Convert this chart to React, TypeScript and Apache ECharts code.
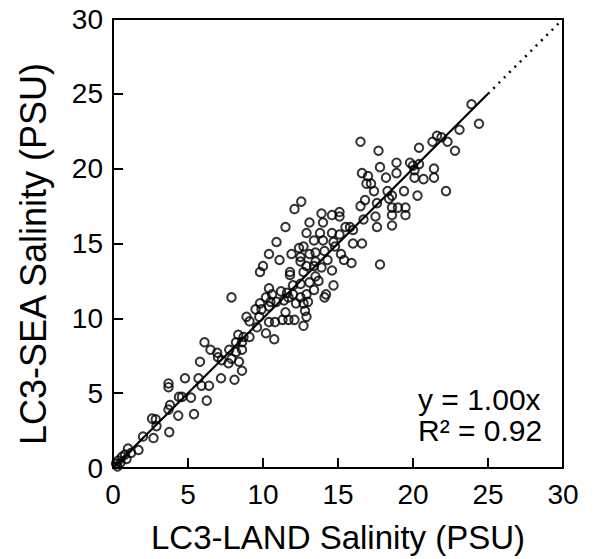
import React, { useEffect, useRef } from "react";
import * as echarts from "echarts";

// LC3-LAND salinity (x) and LC3-SEA salinity (y), PSU
const landSalinity = [
  0.2, 0.35, 0.6, 0.8, 1.0, 1.7, 0.3, 0.5, 0.9, 1.2,
  2.0, 2.7, 2.9, 2.6, 2.85, 3.75, 3.8, 3.7, 4.35, 5.4,
  4.4, 4.6, 5.2, 6.25, 3.7, 3.7, 4.8, 5.7, 5.9, 6.4,
  5.8, 7.2, 8.1, 8.6, 6.5, 6.95, 7.0, 7.75, 7.9, 8.2,
  8.6, 8.4, 7.7, 7.25, 6.1, 8.2, 8.6, 8.7, 9.1, 8.35,
  10.2, 10.75, 9.6, 10.4, 10.8, 11.3, 11.7, 12.1, 12.7, 8.9,
  9.1, 9.75, 9.5, 9.9, 10.4, 11.5, 12.8, 12.9, 9.8, 10.5,
  10.9, 11.4, 11.7, 12.2, 12.7, 10.2, 10.6, 11.6, 12.0, 12.5,
  12.9, 13.0, 7.9, 10.4, 11.2, 12.0, 12.5, 13.1, 13.7, 13.4,
  14.2, 14.1, 14.7, 10.0, 9.8, 11.8, 11.8, 12.7, 12.9, 13.4,
  13.9, 14.6, 13.5, 10.4, 11.1, 11.9, 12.5, 13.1, 13.5, 14.1,
  14.8, 15.2, 12.5, 13.5, 10.9, 12.4, 12.7, 11.5, 12.55, 12.1,
  13.4, 14.0, 14.7, 16.0, 16.6, 15.1, 16.0, 12.9, 13.8, 14.6,
  15.5, 15.8, 13.1, 14.0, 15.1, 13.9, 14.6, 15.1, 15.4, 15.9,
  17.8, 16.7, 17.5, 17.6, 18.6, 18.6, 19.5, 18.6, 19.0, 19.5,
  16.5, 17.6, 18.4, 16.8, 17.4, 18.3, 19.4, 16.9, 17.2, 18.2,
  16.6, 17.0, 17.8, 16.5, 17.7, 18.9, 19.8, 20.4, 20.0, 18.9,
  20.1, 21.4, 20.1, 20.7, 21.4, 22.2, 20.3, 18.6, 20.4, 21.6,
  21.9, 21.3, 22.3, 22.8, 23.1, 23.9, 24.4, 14.3,
];
const seaSalinity = [
  0.3, 0.5, 0.75, 0.9, 1.3, 1.2, 0.1, 0.35, 0.6, 1.0,
  2.1, 2.0, 2.8, 3.3, 3.25, 2.4, 4.2, 3.9, 3.5, 3.6,
  4.75, 4.75, 4.7, 4.5, 5.65, 5.4, 6.0, 6.0, 5.5, 5.5,
  7.1, 6.0, 5.9, 6.5, 7.9, 7.7, 7.4, 7.9, 7.3, 7.75,
  7.9, 7.1, 7.0, 7.2, 8.4, 8.4, 8.4, 8.75, 8.75, 8.9,
  9.0, 8.6, 9.4, 9.75, 9.75, 9.9, 9.9, 9.9, 9.5, 10.1,
  9.8, 10.1, 10.6, 10.6, 10.8, 10.4, 10.5, 10.1, 11.0, 11.1,
  11.1, 11.2, 11.4, 11.0, 11.0, 11.4, 11.6, 11.7, 11.6, 11.4,
  11.6, 11.1, 11.4, 12.0, 11.8, 12.2, 12.3, 12.4, 12.5, 11.9,
  11.6, 11.4, 12.2, 13.5, 13.1, 13.1, 12.9, 13.1, 13.5, 13.5,
  13.4, 13.2, 12.8, 14.3, 13.9, 14.3, 14.1, 14.3, 14.4, 14.5,
  14.8, 14.3, 13.8, 13.8, 15.1, 14.7, 14.8, 16.1, 17.8, 17.3,
  15.2, 15.2, 15.1, 15.0, 15.0, 15.6, 15.9, 15.7, 15.7, 15.7,
  16.1, 16.1, 16.4, 16.4, 16.8, 17.0, 16.9, 17.1, 13.9, 13.7,
  13.6, 16.6, 16.8, 16.1, 16.2, 16.9, 16.9, 17.4, 17.4, 17.4,
  17.5, 17.7, 18.0, 17.9, 18.5, 18.5, 18.5, 19.0, 19.0, 19.4,
  19.7, 19.5, 20.1, 21.8, 21.2, 20.4, 20.4, 20.3, 20.2, 19.7,
  19.9, 20.0, 19.4, 19.3, 19.4, 18.5, 18.2, 18.2, 21.4, 22.2,
  22.1, 21.8, 21.8, 21.2, 22.6, 24.3, 23.0, 13.9,
];

const axisTicks = [0, 5, 10, 15, 20, 25, 30];
const fitSlope = 1.0;
const fitEndX = 25;
const axisMax = 30;
const xTitle = "LC3-LAND Salinity (PSU)";
const yTitle = "LC3-SEA Salinity (PSU)";
const fitLabel = "y = 1.00x";
const r2Label = "R² = 0.92";

const FONT = "'Liberation Sans', Arial, Helvetica, sans-serif";

export default function App() {
  const ref = useRef<HTMLDivElement>(null);

  useEffect(() => {
    document.body.style.margin = "0";
    if (!ref.current) return;
    const chart = echarts.init(ref.current, null, { renderer: "svg" });
    const points = landSalinity.map((x, i) => [x, seaSalinity[i]]);
    const axisCommon = {
      type: "value" as const,
      min: axisTicks[0],
      max: axisTicks[axisTicks.length - 1],
      interval: 5,
      axisLine: { show: true, lineStyle: { color: "#000", width: 2 } },
      axisTick: { show: true, inside: true, length: 10, lineStyle: { color: "#000", width: 2 } },
      splitLine: { show: false },
    };
    chart.setOption({
      animation: false,
      backgroundColor: "#fff",
      grid: {
        left: 113,
        right: 33,
        top: 19,
        bottom: 91,
        show: true,
        borderColor: "#000",
        borderWidth: 2,
        backgroundColor: "transparent",
      },
      xAxis: {
        ...axisCommon,
        name: xTitle,
        nameLocation: "middle",
        nameGap: 53,
        nameTextStyle: { color: "#000", fontSize: 33, fontFamily: FONT },
        axisLabel: { color: "#000", fontSize: 28, fontFamily: FONT, margin: 12 },
      },
      yAxis: {
        ...axisCommon,
        axisLabel: { color: "#000", fontSize: 28, fontFamily: FONT, margin: 10 },
      },
      graphic: [
        {
          type: "text",
          x: 33,
          y: 254,
          rotation: Math.PI / 2,
          style: {
            text: yTitle,
            fontSize: 36,
            fontFamily: FONT,
            fill: "#000",
            align: "center",
            verticalAlign: "middle",
          },
        },
        {
          type: "text",
          left: 418,
          top: 384,
          style: { text: fitLabel, fontSize: 30, fontFamily: FONT, fill: "#000" },
        },
        {
          type: "text",
          left: 418,
          top: 415,
          style: { text: r2Label, fontSize: 30, fontFamily: FONT, fill: "#000" },
        },
      ],
      series: [
        {
          type: "scatter",
          data: points,
          symbol: "circle",
          symbolSize: 8.5,
          itemStyle: { color: "rgba(0,0,0,0)", borderColor: "#000", borderWidth: 2 },
          z: 2,
        },
        {
          type: "line",
          data: [
            [0, 0],
            [fitEndX, fitSlope * fitEndX],
          ],
          showSymbol: false,
          lineStyle: { color: "#000", width: 2.2, type: "solid" },
          z: 3,
        },
        {
          type: "line",
          data: [
            [fitEndX, fitSlope * fitEndX],
            [axisMax, fitSlope * axisMax],
          ],
          showSymbol: false,
          lineStyle: { color: "#000", width: 2.5, type: [2, 5.5] },
          z: 3,
        },
      ],
    });
    return () => chart.dispose();
  }, []);

  return <div ref={ref} style={{ width: 596, height: 559 }} />;
}
